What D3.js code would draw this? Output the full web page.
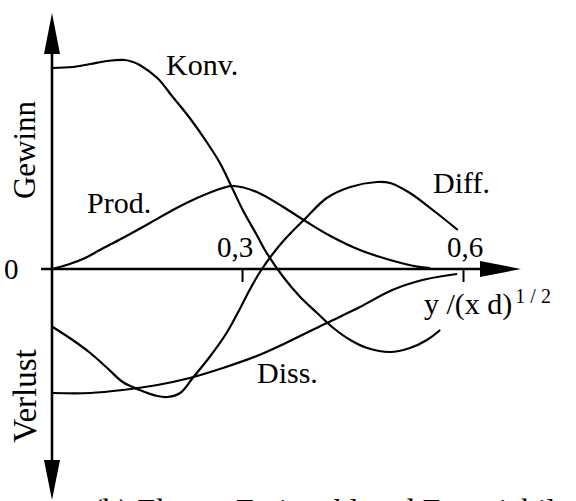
<!DOCTYPE html>
<html>
<head>
<meta charset="utf-8">
<script src="https://cdn.jsdelivr.net/npm/d3@7"></script>
<style>
  html, body { margin: 0; padding: 0; background: #fff; }
  svg { display: block; }
  text { font-family: "Liberation Serif", "Times New Roman", serif; fill: #000; }
</style>
</head>
<body>
<svg id="chart" width="576" height="501"></svg>
<script>
// Energy budget terms across the jet, y/(x d)^(1/2) vs. gain / loss
const xTicks = [0.3, 0.6];
const xTickLabels = ["0,3", "0,6"];

const konvX = [0.042, 0.070, 0.094, 0.117, 0.141, 0.152, 0.161, 0.185, 0.206, 0.229, 0.252, 0.270, 0.286, 0.301, 0.320, 0.331, 0.356, 0.379, 0.402, 0.424, 0.447, 0.470, 0.501, 0.528, 0.551, 0.569];
const konvY = [1.005, 1.010, 1.025, 1.040, 1.045, 1.035, 1.020, 0.955, 0.860, 0.755, 0.635, 0.530, 0.410, 0.295, 0.170, 0.095, -0.040, -0.140, -0.220, -0.295, -0.355, -0.395, -0.415, -0.395, -0.355, -0.305];

const prodX = [0.042, 0.066, 0.087, 0.107, 0.138, 0.175, 0.206, 0.239, 0.274, 0.288, 0.320, 0.356, 0.388, 0.420, 0.460, 0.501, 0.538, 0.555];
const prodY = [0.000, 0.025, 0.055, 0.095, 0.155, 0.230, 0.295, 0.355, 0.405, 0.415, 0.385, 0.310, 0.235, 0.165, 0.095, 0.045, 0.012, 0.005];

const diffX = [0.043, 0.070, 0.094, 0.117, 0.138, 0.161, 0.185, 0.199, 0.216, 0.233, 0.256, 0.279, 0.297, 0.311, 0.327, 0.356, 0.388, 0.415, 0.447, 0.483, 0.501, 0.528, 0.559, 0.593];
const diffY = [-0.290, -0.355, -0.420, -0.495, -0.565, -0.605, -0.635, -0.640, -0.620, -0.545, -0.440, -0.320, -0.200, -0.100, 0.000, 0.140, 0.260, 0.355, 0.410, 0.435, 0.430, 0.380, 0.295, 0.195];

const dissX = [0.043, 0.094, 0.138, 0.185, 0.229, 0.274, 0.320, 0.365, 0.415, 0.460, 0.504, 0.545, 0.582, 0.592];
const dissY = [-0.620, -0.620, -0.605, -0.580, -0.545, -0.495, -0.435, -0.360, -0.270, -0.190, -0.105, -0.055, -0.030, -0.025];

const svg = d3.select("#chart");

const x = d3.scaleLinear().domain([0.042, 0.6]).range([52, 463]);
const y = d3.scaleLinear().domain([-1, 1]).range([469, 69]);

const originX = x(0.042);
const originY = y(0);

const line = d3.line()
  .x(d => x(d[0]))
  .y(d => y(d[1]))
  .curve(d3.curveCatmullRom.alpha(0.5));

const series = [
  { name: "Konv.", xs: konvX, ys: konvY },
  { name: "Prod.", xs: prodX, ys: prodY },
  { name: "Diff.", xs: diffX, ys: diffY },
  { name: "Diss.", xs: dissX, ys: dissY }
];

// curves
svg.append("g")
  .selectAll("path")
  .data(series)
  .join("path")
  .attr("d", s => line(d3.zip(s.xs, s.ys)))
  .attr("fill", "none")
  .attr("stroke", "#000")
  .attr("stroke-width", 2.2)
  .attr("stroke-linejoin", "round");

// vertical axis with arrows at both ends
const axes = svg.append("g");
axes.append("line")
  .attr("x1", originX).attr("x2", originX)
  .attr("y1", 50).attr("y2", 464)
  .attr("stroke", "#000").attr("stroke-width", 2.6);
axes.append("path")
  .attr("d", `M${originX},13 L${originX - 8},54 L${originX + 8},54 Z`)
  .attr("fill", "#000");
axes.append("path")
  .attr("d", `M${originX},500 L${originX - 8},460 L${originX + 8},460 Z`)
  .attr("fill", "#000");

// horizontal axis with arrow
axes.append("line")
  .attr("x1", 41).attr("x2", 484)
  .attr("y1", originY).attr("y2", originY)
  .attr("stroke", "#000").attr("stroke-width", 2.6);
axes.append("path")
  .attr("d", `M521,${originY} L480,${originY - 8} L480,${originY + 8} Z`)
  .attr("fill", "#000");

// ticks below the axis
const xAxis = d3.axisBottom(x)
  .tickValues(xTicks)
  .tickSizeInner(13)
  .tickSizeOuter(0)
  .tickFormat("");
const gx = svg.append("g")
  .attr("transform", `translate(0,${originY})`)
  .call(xAxis);
gx.select(".domain").remove();
gx.selectAll(".tick line").attr("stroke", "#000").attr("stroke-width", 2);

// tick labels above the axis
svg.append("g")
  .selectAll("text")
  .data(xTicks)
  .join("text")
  .attr("x", (d, i) => x(d) + (i === 0 ? -7 : 2))
  .attr("y", 257)
  .attr("text-anchor", "middle")
  .attr("font-size", 29)
  .text((d, i) => xTickLabels[i]);

svg.append("text")
  .attr("x", 4).attr("y", 279)
  .attr("font-size", 29)
  .text("0");

// axis titles
svg.append("text")
  .attr("transform", "translate(35,150) rotate(-90)")
  .attr("text-anchor", "middle")
  .attr("font-size", 31)
  .text("Gewinn");
svg.append("text")
  .attr("transform", "translate(36,396) rotate(-90)")
  .attr("text-anchor", "middle")
  .attr("font-size", 33)
  .text("Verlust");

const xt = svg.append("text")
  .attr("x", 424).attr("y", 314)
  .attr("font-size", 30);
xt.append("tspan").text("y /(x d)");
xt.append("tspan").attr("font-size", 20).attr("dx", 3).attr("dy", -11).text("1 / 2");

// curve labels
const labelPos = {
  "Konv.": [166, 75],
  "Prod.": [87, 213],
  "Diff.": [433, 193],
  "Diss.": [257, 383]
};
svg.append("g")
  .selectAll("text")
  .data(series)
  .join("text")
  .attr("x", s => labelPos[s.name][0])
  .attr("y", s => labelPos[s.name][1])
  .attr("font-size", 30)
  .text(s => s.name);

// caption, running off the bottom edge
svg.append("text")
  .attr("x", 92).attr("y", 521)
  .attr("font-size", 32)
  .text("(b) Ebener Freistrahl und Energiebilanz");
</script>
</body>
</html>
